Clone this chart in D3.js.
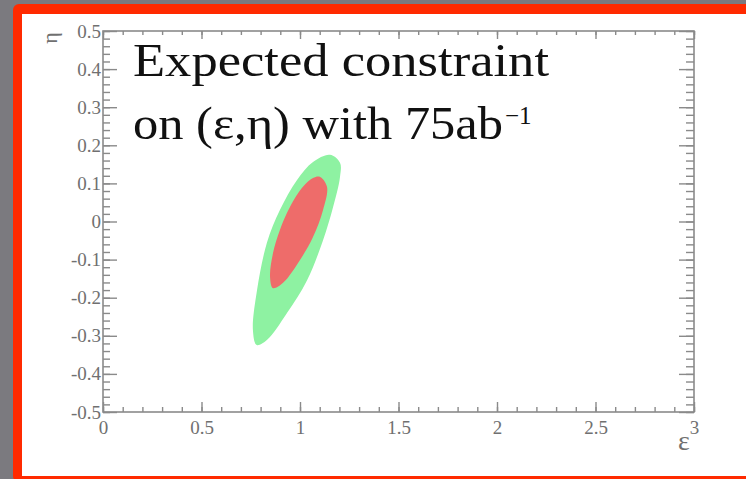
<!DOCTYPE html>
<html>
<head>
<meta charset="utf-8">
<script src="https://cdn.jsdelivr.net/npm/d3@7"></script>
<style>
  html, body { margin: 0; padding: 0; background: #7b7a7f; }
  svg { display: block; }
</style>
</head>
<body>
<script>
// contour outlines, (epsilon, eta)
const outerEps = [0.780, 0.761, 0.782, 0.832, 0.898, 0.985, 1.066, 1.152, 1.203, 1.203, 1.168, 1.117, 1.036, 0.934, 0.832]
const outerEta = [-0.324, -0.285, -0.180, -0.056, 0.030, 0.109, 0.156, 0.175, 0.154, 0.117, 0.038, -0.049, -0.154, -0.240, -0.311]
const innerEps = [1.102, 1.137, 1.117, 1.066, 1.000, 0.914, 0.863, 0.848, 0.863, 0.898, 0.949, 1.015, 1.066]
const innerEta = [0.117, 0.091, 0.030, -0.041, -0.101, -0.161, -0.175, -0.146, -0.083, -0.022, 0.038, 0.091, 0.114]

const xMajor = [0, 0.5, 1, 1.5, 2, 2.5, 3]
const xLabels = ["0", "0.5", "1", "1.5", "2", "2.5", "3"]
const yMajor = [-0.5, -0.4, -0.3, -0.2, -0.1, 0, 0.1, 0.2, 0.3, 0.4, 0.5]
const yLabels = ["-0.5", "-0.4", "-0.3", "-0.2", "-0.1", "0", "0.1", "0.2", "0.3", "0.4", "0.5"]
const xMinor = d3.range(0, 31).map(i => i / 10)
const yMinor = d3.range(-25, 26).map(i => i / 50)

const width = 746, height = 479
const margin = {left: 103, right: 52, top: 31, bottom: 67}

const svg = d3.select("body").append("svg")
  .attr("width", width)
  .attr("height", height)

// slide frame
svg.append("rect")
  .attr("x", 0).attr("y", 0).attr("width", width).attr("height", height)
  .attr("fill", "#7b7a7f")
svg.append("rect")
  .attr("x", 13).attr("y", 4).attr("width", width + 20).attr("height", height - 1)
  .attr("rx", 6)
  .attr("fill", "#ff2a00")
svg.append("rect")
  .attr("x", 22).attr("y", 14).attr("width", width).attr("height", 462)
  .attr("fill", "#fff")

const x = d3.scaleLinear().domain([0, 3]).range([margin.left, width - margin.right])
const y = d3.scaleLinear().domain([-0.5, 0.5]).range([height - margin.bottom, margin.top])

const plot = svg.append("g").attr("class", "plot")

const closed = d3.line()
  .x(d => x(d[0]))
  .y(d => y(d[1]))
  .curve(d3.curveCatmullRomClosed.alpha(0.5))

plot.append("path")
  .datum(outerEps.map((e, i) => [e, outerEta[i]]))
  .attr("d", closed)
  .attr("fill", "#8ef2a2")

plot.append("path")
  .datum(innerEps.map((e, i) => [e, innerEta[i]]))
  .attr("d", closed)
  .attr("fill", "#ee6c6a")

const axisColor = "#8a8a8a"
const labelColor = "#707070"
const tickFont = "'Liberation Serif', 'DejaVu Serif', serif"

function styleAxis(g) {
  g.select(".domain").remove()
  g.selectAll(".tick line").attr("stroke", axisColor).attr("stroke-width", 1.4)
  g.selectAll("text")
    .attr("fill", labelColor)
    .attr("font-family", tickFont)
    .attr("font-size", 19)
}

// minor ticks
svg.append("g").attr("transform", `translate(0,${y(-0.5)})`)
  .call(d3.axisBottom(x).tickValues(xMinor).tickSize(-5).tickFormat(""))
  .call(styleAxis)
svg.append("g").attr("transform", `translate(0,${y(0.5)})`)
  .call(d3.axisTop(x).tickValues(xMinor).tickSize(-4).tickFormat(""))
  .call(styleAxis)
svg.append("g").attr("transform", `translate(${x(0)},0)`)
  .call(d3.axisLeft(y).tickValues(yMinor).tickSize(-7).tickFormat(""))
  .call(styleAxis)
svg.append("g").attr("transform", `translate(${x(3)},0)`)
  .call(d3.axisRight(y).tickValues(yMinor).tickSize(-8).tickFormat(""))
  .call(styleAxis)

// major ticks + labels
svg.append("g").attr("transform", `translate(0,${y(-0.5)})`)
  .call(d3.axisBottom(x).tickValues(xMajor).tickSize(-10).tickPadding(9)
    .tickFormat((d, i) => xLabels[i]))
  .call(styleAxis)
svg.append("g").attr("transform", `translate(0,${y(0.5)})`)
  .call(d3.axisTop(x).tickValues(xMajor).tickSize(-8).tickFormat(""))
  .call(styleAxis)
svg.append("g").attr("transform", `translate(${x(0)},0)`)
  .call(d3.axisLeft(y).tickValues(yMajor).tickSize(-14).tickPadding(2)
    .tickFormat((d, i) => yLabels[i]))
  .call(styleAxis)
svg.append("g").attr("transform", `translate(${x(3)},0)`)
  .call(d3.axisRight(y).tickValues(yMajor).tickSize(-15).tickFormat(""))
  .call(styleAxis)

// frame
svg.append("rect")
  .attr("x", x(0)).attr("y", y(0.5))
  .attr("width", x(3) - x(0)).attr("height", y(-0.5) - y(0.5))
  .attr("fill", "none")
  .attr("stroke", axisColor)
  .attr("stroke-width", 1.6)

// axis titles
svg.append("text")
  .attr("transform", "translate(57,38) rotate(-90)")
  .attr("text-anchor", "middle")
  .attr("font-family", tickFont)
  .attr("font-size", 22)
  .attr("fill", labelColor)
  .text("η")
svg.append("text")
  .attr("x", 684).attr("y", 450)
  .attr("text-anchor", "middle")
  .attr("font-family", tickFont)
  .attr("font-size", 28)
  .attr("fill", labelColor)
  .text("ε")

// overlay caption
const caption = svg.append("text")
  .attr("font-family", "'Liberation Serif', 'DejaVu Serif', serif")
  .attr("font-size", 46)
  .attr("fill", "#111")
caption.append("tspan").attr("x", 133).attr("y", 76)
  .attr("textLength", 416).attr("lengthAdjust", "spacingAndGlyphs")
  .text("Expected constraint")
const line2 = caption.append("tspan").attr("x", 133).attr("y", 139)
line2.append("tspan")
  .attr("textLength", 370).attr("lengthAdjust", "spacingAndGlyphs")
  .text("on (ε,η) with 75ab")
line2.append("tspan").attr("font-size", 25).attr("dy", -15).attr("dx", 2).text("−1")
</script>
</body>
</html>
